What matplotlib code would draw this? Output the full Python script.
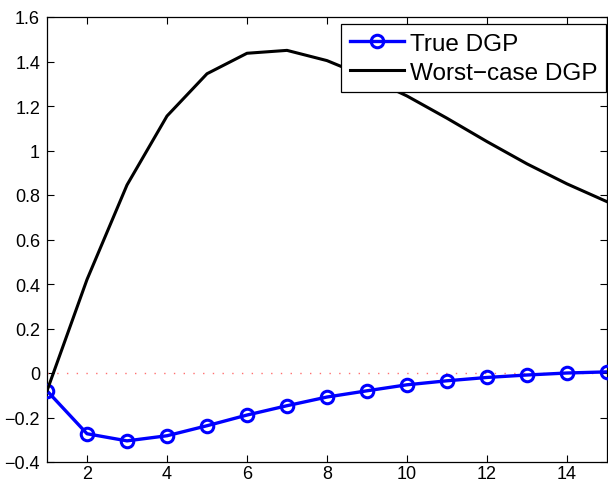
import numpy as np
import matplotlib
matplotlib.use("Agg")
import matplotlib.pyplot as plt
from matplotlib.ticker import FuncFormatter

plt.rcParams['font.family'] = ['Liberation Sans', 'DejaVu Sans']

# impulse responses, horizons 1..15
horizon = list(range(1, 16))
true_dgp = [-0.08, -0.273, -0.305, -0.282, -0.237, -0.189, -0.147, -0.108,
            -0.08, -0.053, -0.035, -0.02, -0.009, 0.0, 0.005]
worst_dgp = [-0.08, 0.42, 0.845, 1.155, 1.345, 1.437, 1.45, 1.404,
             1.33, 1.245, 1.145, 1.04, 0.94, 0.85, 0.77]
zero_line = [0.0] * len(horizon)

x_ticks = [2, 4, 6, 8, 10, 12, 14]
y_ticks = [-0.4, -0.2, 0, 0.2, 0.4, 0.6, 0.8, 1, 1.2, 1.4, 1.6]

fig = plt.figure(figsize=(6.08, 4.85), dpi=100)
ax = fig.add_axes([47 / 608, 22 / 485, 560 / 608, 445 / 485])

ax.plot(horizon, zero_line, color='#ff7070', linestyle=(0, (1, 6)), linewidth=1.0)
ax.plot(horizon, true_dgp, '-o', color='#0000ff', linewidth=2.4,
        markersize=9, markerfacecolor='none', markeredgewidth=2.2,
        label='True DGP', zorder=3)
ax.plot(horizon, worst_dgp, '-', color='black', linewidth=2.2,
        label='Worst\u2212case DGP', zorder=3)

ax.set_xlim(1, 15)
ax.set_ylim(-0.4, 1.6)
ax.set_xticks(x_ticks)
ax.set_yticks(y_ticks)


def matlab_fmt(v, pos):
    s = ('%.1f' % v).rstrip('0').rstrip('.')
    if s in ('-0', ''):
        s = '0'
    return s.replace('-', '\u2212')


ax.yaxis.set_major_formatter(FuncFormatter(matlab_fmt))
ax.xaxis.set_major_formatter(FuncFormatter(matlab_fmt))
ax.tick_params(direction='in', length=5, width=0.8, top=True, right=True,
               labelsize=13)
ax.tick_params(axis='x', pad=2)
ax.tick_params(axis='y', pad=5)
for sp in ax.spines.values():
    sp.set_linewidth(0.9)

leg = ax.legend(loc='upper right', bbox_to_anchor=(0.999, 0.984),
                borderaxespad=0, fontsize=17.5, fancybox=False,
                edgecolor='black', framealpha=1, handlelength=2.25,
                handletextpad=0.25, labelspacing=0.3, borderpad=0.35)
leg.get_frame().set_linewidth(0.9)

fig.savefig('out.png', dpi=100)
